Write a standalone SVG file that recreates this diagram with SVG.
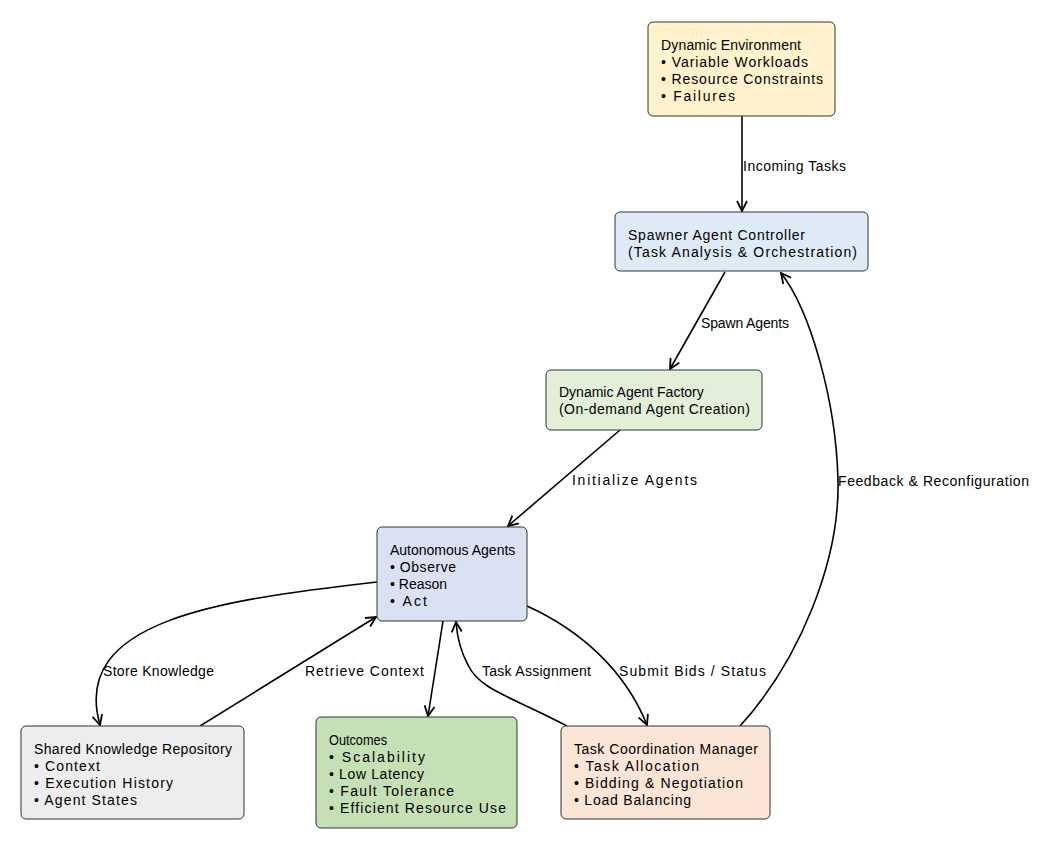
<svg xmlns="http://www.w3.org/2000/svg" width="1052" height="849" viewBox="0 0 1052 849">
<style>
text{font-family:"Liberation Sans",Arial,sans-serif;font-size:14px;fill:#000}
.n rect{stroke:#333;stroke-width:1}
.c path{fill:none;stroke:#000;stroke-width:1.6;marker-end:url(#a)}
</style>
<defs><marker id="a" viewBox="0 0 12 12" refX="11" refY="6" markerWidth="12" markerHeight="12" markerUnits="userSpaceOnUse" orient="auto"><path d="M1,1 L11,6 L1,11" fill="none" stroke="#000" stroke-width="1.8"/></marker></defs>
<rect width="1052" height="849" fill="#fff"/>
<g class="c">
<path d="M742,116 L742,211"/>
<path d="M725,272 L670,369"/>
<path d="M620,430 L508,526"/>
<path d="M377,582 C220,600 70,620 100,725"/>
<path d="M200,726 L376,617"/>
<path d="M443,621 L428,716"/>
<path d="M567,726 C510,696 480,690 468,665 C460,650 457,635 456,622"/>
<path d="M527,606 C580,630 625,670 647,725"/>
<path d="M740,726 C800,660 840,560 838,480 C836,400 810,310 781,273"/>
</g>
<g>
<text x="743" y="171" textLength="103" lengthAdjust="spacing">Incoming Tasks</text>
<text x="701" y="328" textLength="88" lengthAdjust="spacing">Spawn Agents</text>
<text x="572" y="485" textLength="125" lengthAdjust="spacing">Initialize Agents</text>
<text x="103" y="676" textLength="111" lengthAdjust="spacing">Store Knowledge</text>
<text x="305" y="676" textLength="119" lengthAdjust="spacing">Retrieve Context</text>
<text x="482" y="676" textLength="109" lengthAdjust="spacing">Task Assignment</text>
<text x="619" y="676" textLength="147" lengthAdjust="spacing">Submit Bids / Status</text>
<text x="838" y="486" textLength="191" lengthAdjust="spacing">Feedback &amp; Reconfiguration</text>
</g>
<g class="n" id="env"><rect x="648" y="22" width="187" height="94" rx="5" fill="#fff2cc"/>
<text x="661" y="50" textLength="140" lengthAdjust="spacing">Dynamic Environment</text><text x="661" y="67" textLength="147" lengthAdjust="spacing">• Variable Workloads</text><text x="661" y="84" textLength="162" lengthAdjust="spacing">• Resource Constraints</text><text x="661" y="101" textLength="74" lengthAdjust="spacing">• Failures</text></g>
<g class="n" id="spawner"><rect x="615" y="212" width="253" height="59" rx="5" fill="#deebf7"/>
<text x="628" y="240" textLength="177" lengthAdjust="spacing">Spawner Agent Controller</text><text x="628" y="257" textLength="229" lengthAdjust="spacing">(Task Analysis &amp; Orchestration)</text></g>
<g class="n" id="factory"><rect x="546" y="370" width="216" height="60" rx="5" fill="#e2f0d9"/>
<text x="559" y="397">Dynamic Agent Factory</text><text x="559" y="414" textLength="191" lengthAdjust="spacing">(On-demand Agent Creation)</text></g>
<g class="n" id="agents"><rect x="377" y="527" width="150" height="94" rx="5" fill="#dae1f3"/>
<text x="390" y="555">Autonomous Agents</text><text x="390" y="572" textLength="66" lengthAdjust="spacing">• Observe</text><text x="390" y="589">• Reason</text><text x="390" y="606" textLength="37" lengthAdjust="spacing">•  Act</text></g>
<g class="n" id="repo"><rect x="21" y="726" width="223" height="93" rx="5" fill="#ededed"/>
<text x="34" y="754" textLength="198" lengthAdjust="spacing">Shared Knowledge Repository</text><text x="34" y="771" textLength="66" lengthAdjust="spacing">• Context</text><text x="34" y="788" textLength="139" lengthAdjust="spacing">• Execution History</text><text x="34" y="805" textLength="103" lengthAdjust="spacing">• Agent States</text></g>
<g class="n" id="outcomes"><rect x="316" y="717" width="201" height="111" rx="5" fill="#c5e0b4"/>
<text x="329" y="745" textLength="58" lengthAdjust="spacingAndGlyphs">Outcomes</text><text x="329" y="762" textLength="96" lengthAdjust="spacing">•  Scalability</text><text x="329" y="779" textLength="95" lengthAdjust="spacing">• Low Latency</text><text x="329" y="796" textLength="125" lengthAdjust="spacing">• Fault Tolerance</text><text x="329" y="813" textLength="177" lengthAdjust="spacing">• Efficient Resource Use</text></g>
<g class="n" id="coord"><rect x="561" y="726" width="209" height="93" rx="5" fill="#fbe5d6"/>
<text x="574" y="754" textLength="184" lengthAdjust="spacing">Task Coordination Manager</text><text x="574" y="771" textLength="125" lengthAdjust="spacing">• Task Allocation</text><text x="574" y="788" textLength="169" lengthAdjust="spacing">• Bidding &amp; Negotiation</text><text x="574" y="805" textLength="117" lengthAdjust="spacing">• Load Balancing</text></g>
</svg>
